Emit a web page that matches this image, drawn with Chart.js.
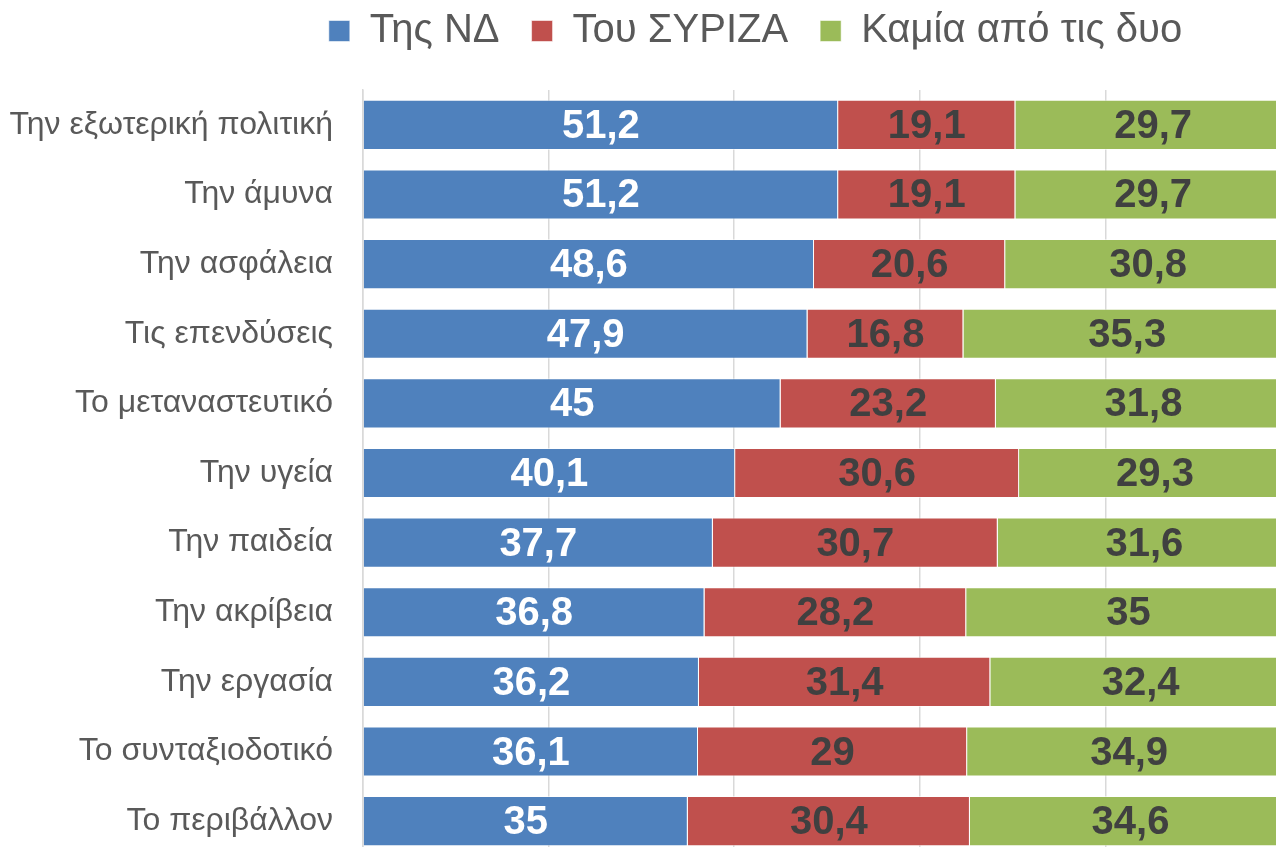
<!DOCTYPE html>
<html>
<head>
<meta charset="utf-8">
<script src="https://cdn.jsdelivr.net/npm/chart.js@4/dist/chart.umd.min.js"></script>
<style>
html,body{margin:0;padding:0;background:#fff;overflow:hidden;}
#clip{width:1276px;height:847px;overflow:hidden;position:relative;}
#wrap{width:1300px;height:856px;position:absolute;left:0;top:0;}
</style>
</head>
<body>
<div id="clip"><div id="wrap"><canvas id="c" width="1300" height="856"></canvas></div></div>
<script>
const categories = ["Την εξωτερική πολιτική","Την άμυνα","Την ασφάλεια","Τις επενδύσεις","Το μεταναστευτικό","Την υγεία","Την παιδεία","Την ακρίβεια","Την εργασία","Το συνταξιοδοτικό","Το περιβάλλον"];
const seriesNames = ["Της ΝΔ","Του ΣΥΡΙΖΑ","Καμία από τις δυο"];
const nd = [51.2,51.2,48.6,47.9,45,40.1,37.7,36.8,36.2,36.1,35];
const syriza = [19.1,19.1,20.6,16.8,23.2,30.6,30.7,28.2,31.4,29,30.4];
const none = [29.7,29.7,30.8,35.3,31.8,29.3,31.6,35,32.4,34.9,34.6];
const xTicks = [0,20,40,60,80,100];

const colors = ["#4F81BD","#C0504D","#9BBB59"];
const labelColors = ["#ffffff","#404040","#404040"];
const FONT = '"Liberation Sans", Arial, sans-serif';

const valueLabels = {
  id:'valueLabels',
  afterDatasetsDraw(chart){
    const ctx = chart.ctx;
    ctx.save();
    ctx.font = 'bold 40px ' + FONT;
    ctx.textAlign = 'center';
    ctx.textBaseline = 'middle';
    chart.data.datasets.forEach((ds,i)=>{
      const meta = chart.getDatasetMeta(i);
      meta.data.forEach((bar,j)=>{
        const v = ds.data[j];
        const cx = (bar.x + bar.base)/2;
        ctx.fillStyle = labelColors[i];
        ctx.fillText(String(v).replace('.',','), cx, bar.y + 2);
      });
    });
    ctx.restore();
  }
};

const legendShift = {
  id:'legendShift',
  afterLayout(chart){
    const lg = chart.legend;
    if (lg) { lg.left += 110; lg.right += 110; }
  }
};

new Chart(document.getElementById('c'), {
  type:'bar',
  data:{
    labels: categories,
    datasets:[nd,syriza,none].map((d,i)=>({
      label: seriesNames[i],
      data: d,
      backgroundColor: colors[i],
      borderColor: 'rgba(255,255,255,0.55)',
      borderWidth: 1,
      categoryPercentage: 1,
      barPercentage: 0.72
    }))
  },
  options:{
    indexAxis:'y',
    responsive:false,
    animation:false,
    devicePixelRatio:1,
    layout:{padding:{left:0,right:9,top:-21,bottom:0}},
    plugins:{
      legend:{
        position:'top',
        labels:{
          boxWidth:21, boxHeight:21,
          padding:32,
          color:'#595959',
          font:{family:FONT, size:40}
        }
      },
      tooltip:{enabled:false}
    },
    scales:{
      x:{
        position:'top',
        stacked:true, min:0, max:100,
        afterBuildTicks(s){ s.ticks = xTicks.map(v=>({value:v})); },
        afterFit(s){ s.height = 29; },
        ticks:{display:false},
        grid:{color:'#d9d9d9', lineWidth:1.5, drawTicks:false},
        border:{display:false}
      },
      y:{
        stacked:true,
        afterFit(s){ s.width = 363; s.paddingTop = 0; s.paddingBottom = 0; },
        ticks:{
          color:'#595959',
          padding:30,
          font:{family:FONT, size:32}
        },
        grid:{display:false, drawTicks:false},
        border:{display:true, color:'#d9d9d9', width:1.5}
      }
    }
  },
  plugins:[valueLabels, legendShift]
});
</script>
</body>
</html>
